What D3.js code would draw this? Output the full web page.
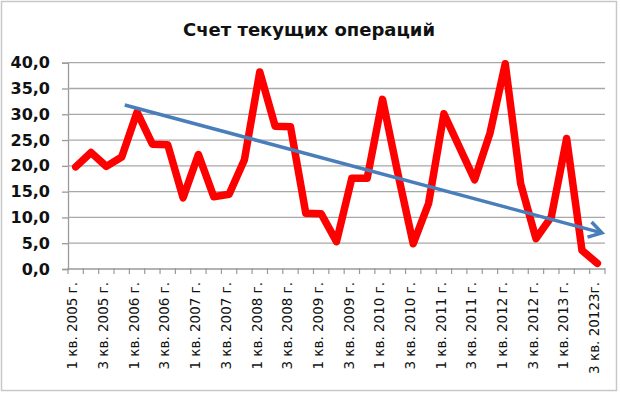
<!DOCTYPE html>
<html>
<head>
<meta charset="utf-8">
<script src="https://cdn.jsdelivr.net/npm/d3@7"></script>
<style>
  html, body { margin: 0; padding: 0; background: #fff; }
  svg { display: block; }
</style>
</head>
<body>
<svg id="chart" width="620" height="394"></svg>
<script>
const title = "Счет текущих операций";
const categories = [
  "1 кв. 2005 г.", "2 кв. 2005 г.", "3 кв. 2005 г.", "4 кв. 2005 г.",
  "1 кв. 2006 г.", "2 кв. 2006 г.", "3 кв. 2006 г.", "4 кв. 2006 г.",
  "1 кв. 2007 г.", "2 кв. 2007 г.", "3 кв. 2007 г.", "4 кв. 2007 г.",
  "1 кв. 2008 г.", "2 кв. 2008 г.", "3 кв. 2008 г.", "4 кв. 2008 г.",
  "1 кв. 2009 г.", "2 кв. 2009 г.", "3 кв. 2009 г.", "4 кв. 2009 г.",
  "1 кв. 2010 г.", "2 кв. 2010 г.", "3 кв. 2010 г.", "4 кв. 2010 г.",
  "1 кв. 2011 г.", "2 кв. 2011 г.", "3 кв. 2011 г.", "4 кв. 2011 г.",
  "1 кв. 2012 г.", "2 кв. 2012 г.", "3 кв. 2012 г.", "4 кв. 2012 г.",
  "1 кв. 2013 г.", "2 кв. 2013 г.", "3 кв. 20123г."
];
const values = [
  19.8, 22.6, 19.9, 21.7, 30.4, 24.2, 24.1, 13.8, 22.2, 14.0, 14.5, 21.2,
  38.2, 27.7, 27.6, 10.8, 10.7, 5.3, 17.6, 17.6, 32.9, 18.5, 4.9, 12.7,
  30.1, 23.7, 17.3, 26.3, 39.8, 16.6, 5.9, 10.1, 25.3, 3.6, 1.1
];
const yTicks = [0, 5, 10, 15, 20, 25, 30, 35, 40];
// trend arrow endpoints: [category index, value]
const trendStart = [3.2, 31.8];
const trendEnd = [34.3, 7.0];

const svg = d3.select("#chart");
const L = 68, R = 605, T = 62.7, B = 269;

// frame
svg.append("rect").attr("x", 1.5).attr("y", 1.5).attr("width", 615).attr("height", 389)
  .attr("fill", "#fff").attr("stroke", "#c8c8c8").attr("stroke-width", 1.5);

const x = d3.scaleBand().domain(d3.range(categories.length)).range([L, R]);
const xc = i => x(i) + x.bandwidth() / 2;
const xi = d3.scaleLinear().domain([0, categories.length - 1]).range([xc(0), xc(categories.length - 1)]);
const y = d3.scaleLinear().domain([0, 40]).range([B, T]);

// title
svg.append("text").attr("x", 309).attr("y", 36).attr("text-anchor", "middle")
  .attr("font-family", "DejaVu Sans").attr("font-weight", "bold").attr("font-size", 18)
  .attr("fill", "#111").text(title);

// gridlines + y axis
const yAxis = d3.axisLeft(y).tickValues(yTicks).tickSize(6).tickPadding(12)
  .tickFormat(d => d3.format(".1f")(d).replace(".", ","));
const gy = svg.append("g").attr("transform", `translate(${L},0)`).call(yAxis);
gy.select(".domain").attr("stroke", "#9a9a9a").attr("stroke-width", 1.3);
gy.selectAll(".tick line").attr("stroke", "#9a9a9a").attr("stroke-width", 1.3);
gy.selectAll(".tick text").attr("font-family", "DejaVu Sans").attr("font-weight", "bold")
  .attr("font-size", 16).attr("fill", "#111");
svg.append("g").selectAll("line").data(yTicks.filter(d => d > 0)).join("line")
  .attr("x1", L).attr("x2", R).attr("y1", d => y(d)).attr("y2", d => y(d))
  .attr("stroke", "#a8a8a8").attr("stroke-width", 1.3);

// x axis
const gx = svg.append("g").attr("transform", `translate(0,${B})`);
gx.append("line").attr("x1", L).attr("x2", R).attr("stroke", "#9a9a9a").attr("stroke-width", 1.3);
gx.selectAll("line.tk").data(d3.range(categories.length + 1)).join("line").attr("class", "tk")
  .attr("x1", i => L + i * x.step()).attr("x2", i => L + i * x.step())
  .attr("y1", -1).attr("y2", 5).attr("stroke", "#9a9a9a").attr("stroke-width", 1.2);
gx.selectAll("text").data(d3.range(0, categories.length, 2)).join("text")
  .attr("transform", i => `translate(${xc(i) - 3},13) rotate(-90)`)
  .attr("text-anchor", "end").attr("dy", "0.35em")
  .attr("font-family", "DejaVu Sans").attr("font-size", 13.5).attr("fill", "#111")
  .text(i => categories[i]);

// red series
const line = d3.line().x((d, i) => xc(i)).y(d => y(d));
svg.append("path").datum(values).attr("d", line).attr("fill", "none")
  .attr("stroke", "#ff0000").attr("stroke-width", 7.5).attr("stroke-linejoin", "round")
  .attr("stroke-linecap", "round");

// trend arrow
const x1 = xi(trendStart[0]), y1 = y(trendStart[1]);
const x2 = xi(trendEnd[0]), y2 = y(trendEnd[1]);
const ang = Math.atan2(y2 - y1, x2 - x1);
const hl = 15, ha = 0.55;
const arrow = svg.append("g");
arrow.append("line").attr("x1", x1).attr("y1", y1).attr("x2", x2 - 2 * Math.cos(ang)).attr("y2", y2 - 2 * Math.sin(ang))
  .attr("stroke", "#4a7ebb").attr("stroke-width", 3.5);
arrow.append("path")
  .attr("d", `M${x2 - hl * Math.cos(ang - ha)},${y2 - hl * Math.sin(ang - ha)} L${x2},${y2} L${x2 - hl * Math.cos(ang + ha)},${y2 - hl * Math.sin(ang + ha)}`)
  .attr("fill", "none").attr("stroke", "#4a7ebb").attr("stroke-width", 3.5).attr("stroke-linejoin", "miter");
</script>
</body>
</html>
